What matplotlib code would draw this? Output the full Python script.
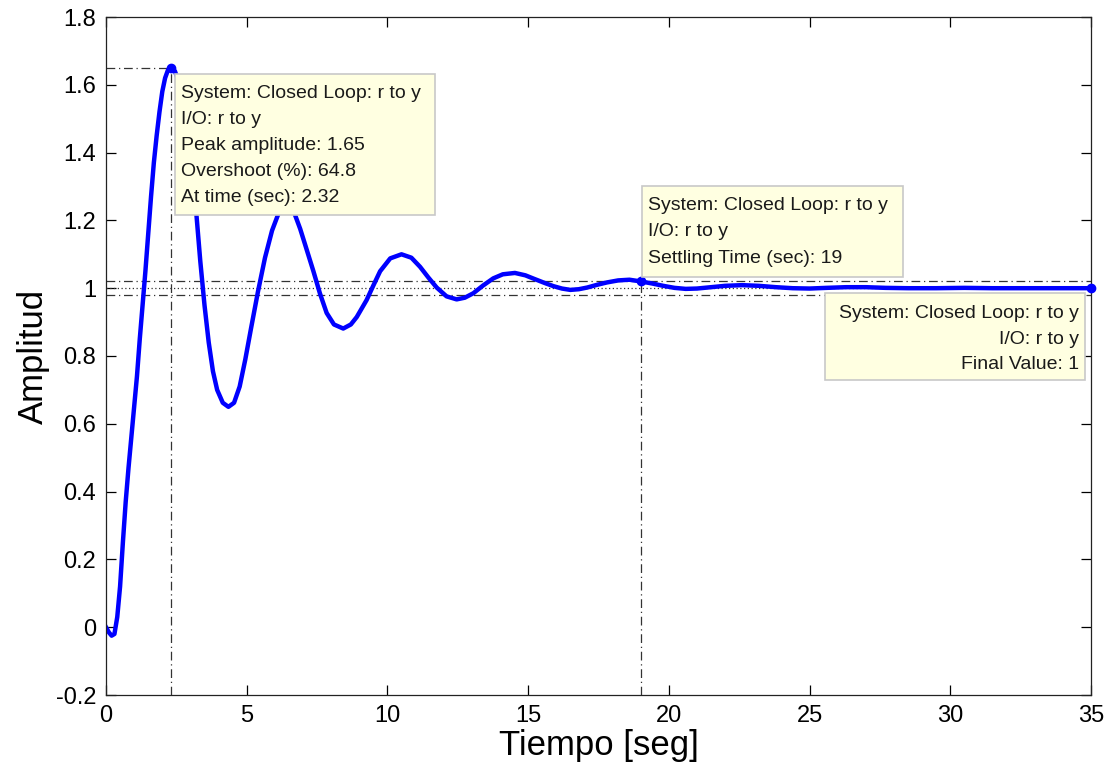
import numpy as np
import matplotlib
matplotlib.use("Agg")
from matplotlib import pyplot as plt
from matplotlib.patches import Rectangle
from matplotlib.ticker import FormatStrFormatter

plt.rcParams['font.family'] = ['Liberation Sans', 'DejaVu Sans']

# step response
time_s = [0, 0.1, 0.2, 0.3, 0.4, 0.5, 0.6, 0.7, 0.8, 0.9, 1.0, 1.1, 1.2, 1.3,
          1.4, 1.5, 1.6, 1.7, 1.8, 1.9, 2.0, 2.1, 2.2, 2.32, 2.45, 2.6, 2.75,
          2.9, 3.05, 3.2, 3.35, 3.5, 3.65, 3.8, 3.95, 4.15, 4.35, 4.55, 4.75,
          4.95, 5.15, 5.4, 5.65, 5.9, 6.15, 6.45, 6.7, 6.9, 7.07, 7.37, 7.6,
          7.84, 8.1, 8.43, 8.7, 8.91, 9.26, 9.5, 9.74, 10.1, 10.5, 10.85,
          11.16, 11.45, 11.75, 12.1, 12.46, 12.75, 13.05, 13.4, 13.76, 14.1,
          14.53, 14.9, 15.2, 15.6, 15.9, 16.2, 16.5, 16.8, 17.1, 17.45, 17.8,
          18.2, 18.6, 19.0, 19.4, 19.8, 20.2, 20.6, 21.0, 21.5, 22.0, 22.6,
          23.2, 23.8, 24.4, 25.0, 25.6, 26.3, 27.0, 27.7, 28.5, 29.5, 30.5,
          31.5, 33.0, 35.0]
amplitude = [0, -0.015, -0.025, -0.02, 0.03, 0.12, 0.25, 0.37, 0.47, 0.56,
             0.65, 0.74, 0.85, 0.95, 1.05, 1.16, 1.27, 1.37, 1.45, 1.52, 1.58,
             1.62, 1.643, 1.65, 1.64, 1.605, 1.545, 1.46, 1.36, 1.23, 1.08,
             0.95, 0.84, 0.755, 0.70, 0.662, 0.65, 0.662, 0.71, 0.79, 0.88,
             0.99, 1.09, 1.17, 1.225, 1.25, 1.22, 1.175, 1.13, 1.05, 0.985,
             0.927, 0.893, 0.881, 0.893, 0.915, 0.965, 1.008, 1.05, 1.088,
             1.10, 1.09, 1.063, 1.032, 1.002, 0.976, 0.967, 0.972, 0.985,
             1.008, 1.029, 1.041, 1.045, 1.038, 1.028, 1.015, 1.006, 0.999,
             0.995, 0.997, 1.002, 1.01, 1.017, 1.023, 1.025, 1.02, 1.014,
             1.007, 1.001, 0.998, 0.999, 1.003, 1.007, 1.009, 1.007, 1.003,
             1.0, 0.999, 1.001, 1.003, 1.003, 1.001, 1.0, 1.0, 1.001, 1.0,
             1.0, 1.0]

peak_time, peak_amp = 2.32, 1.65
settling_time, settling_amp = 19, 1.02
final_time, final_amp = 35, 1.0
band_hi, band_lo = 1.02, 0.98

x_ticks = [0, 5, 10, 15, 20, 25, 30, 35]
y_ticks = [-0.2, 0, 0.2, 0.4, 0.6, 0.8, 1.0, 1.2, 1.4, 1.6, 1.8]

peak_text = ["System: Closed Loop: r to y", "I/O: r to y",
             "Peak amplitude: 1.65", "Overshoot (%): 64.8",
             "At time (sec): 2.32"]
settle_text = ["System: Closed Loop: r to y", "I/O: r to y",
               "Settling Time (sec): 19"]
final_text = ["System: Closed Loop: r to y", "I/O: r to y", "Final Value: 1"]

W, H = 1112, 767
fig = plt.figure(figsize=(W / 100, H / 100), dpi=100)
ax = fig.add_axes([106 / W, (H - 695) / H, 985 / W, 678 / H])

dashdot = (0, (7, 3, 1, 3))
gray = '#333333'

# characteristic lines
ax.plot([0, peak_time], [peak_amp, peak_amp], color=gray, lw=0.9, ls=dashdot)
ax.plot([peak_time, peak_time], [-0.2, peak_amp], color=gray, lw=0.9, ls=dashdot)
ax.plot([settling_time, settling_time], [-0.2, settling_amp], color=gray, lw=0.9, ls=dashdot)
ax.plot([0, 35], [band_hi, band_hi], color=gray, lw=0.9, ls=dashdot)
ax.plot([0, 35], [band_lo, band_lo], color=gray, lw=0.9, ls=dashdot)
ax.plot([0, 35], [final_amp, final_amp], color=gray, lw=0.9, ls=(0, (1, 2)))

ax.plot(time_s, amplitude, color='#0000ff', lw=3.2, solid_joinstyle='round')
ax.plot([peak_time, settling_time, final_time],
        [peak_amp, settling_amp, final_amp], 'o', color='#0000ff',
        ms=6, clip_on=False, zorder=5)

ax.set_xlim(0, 35)
ax.set_ylim(-0.2, 1.8)
ax.set_xticks(x_ticks)
ax.set_yticks(y_ticks)
ax.yaxis.set_major_formatter(FormatStrFormatter('%g'))
ax.tick_params(direction='in', length=7, width=0.9, top=True, right=True,
               labelsize=17, pad=7, colors='black')
for s in ax.spines.values():
    s.set_linewidth(0.9)
    s.set_color('#222222')

ax.set_xlabel('Tiempo [seg]', fontsize=25, labelpad=2)
ax.set_ylabel('Amplitud', fontsize=25, labelpad=4)


def px(x, y):
    return x / W, 1 - y / H


def datatip(x0, y0, x1, y1, lines, line_y, text_x, ha):
    fx, fy = px(x0, y1)
    rect = Rectangle((fx, fy), (x1 - x0) / W, (y1 - y0) / H,
                     transform=fig.transFigure, facecolor='#ffffe1',
                     edgecolor='#c8c8c8', lw=1.2, zorder=10)
    fig.add_artist(rect)
    for k, line in enumerate(lines):
        tx, ty = px(text_x, line_y[k])
        fig.text(tx, ty, line, ha=ha, va='center', fontsize=14,
                 color='#1a1a1a', zorder=11)


datatip(175, 74, 435, 215, peak_text, [94, 120, 146, 172, 197], 181, 'left')
datatip(642, 186, 903, 277, settle_text, [206, 232, 258], 648, 'left')
datatip(825, 293, 1085, 380, final_text, [313, 339, 364], 1079, 'right')

fig.savefig('out.png', dpi=100)
